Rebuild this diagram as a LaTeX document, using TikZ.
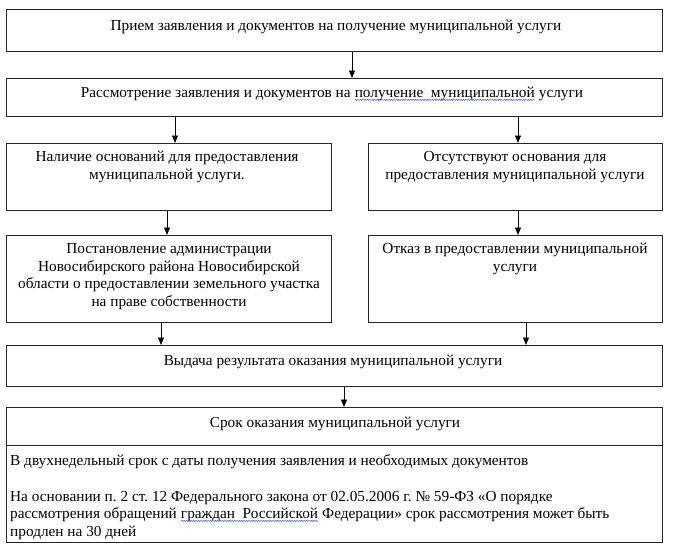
\documentclass[tikz,border=0pt]{standalone}
\usepackage{fontspec}
\setmainfont{Liberation Serif}
\frenchspacing
\usetikzlibrary{arrows.meta,decorations.pathmorphing}
\definecolor{wavecol}{RGB}{70,90,200}
\newcommand{\spellwave}[1]{\tikz[baseline=(sw.base)]{\node[inner sep=0pt,outer sep=0pt,draw=none](sw){#1};\draw[wavecol,line width=0.5pt,decorate,decoration={snake,amplitude=0.6pt,segment length=2.4pt}]([yshift=-2.2pt]sw.base west)--([yshift=-2.2pt]sw.base east);}}
\begin{document}
\begin{tikzpicture}[x=1pt,y=-1pt,
  box/.style={draw=black!85,line width=0.9pt,rectangle,inner sep=0pt},
  txt/.style={inner sep=0pt,font=\fontsize{15.3}{17.5}\selectfont,align=center,anchor=north},
  ltxt/.style={inner sep=0pt,font=\fontsize{15.3}{17.5}\selectfont,align=left,anchor=north west},
  arr/.style={draw=black,line width=0.8pt,-{Triangle[length=7.5pt,width=6pt]}}]
\useasboundingbox (0,0) rectangle (676,554);
% boxes
\node[box,minimum width=656pt,minimum height=42pt,anchor=north west] (b1) at (6,9) {};
\node[box,minimum width=656pt,minimum height=38pt,anchor=north west] (b2) at (6,78) {};
\node[box,minimum width=325pt,minimum height=67pt,anchor=north west] (b3l) at (6,143) {};
\node[box,minimum width=294pt,minimum height=67pt,anchor=north west] (b3r) at (368,143) {};
\node[box,minimum width=325pt,minimum height=87pt,anchor=north west] (b4l) at (6,235) {};
\node[box,minimum width=294pt,minimum height=87pt,anchor=north west] (b4r) at (368,235) {};
\node[box,minimum width=656pt,minimum height=41pt,anchor=north west] (b5) at (6,345) {};
\node[box,minimum width=656pt,minimum height=38pt,anchor=north west] (b6h) at (6,407) {};
\node[box,minimum width=656pt,minimum height=97pt,anchor=north west] (b6b) at (6,445) {};
% texts
\node[txt] (t1) at (336,18.25) {\strut Прием заявления и документов на получение муниципальной услуги};
\node[txt] (t2) at (332,85.25) {\strut Рассмотрение заявления и документов на \spellwave{получение\ \ муниципальной} услуги};
\node[txt] (t3l) at (167,149.25) {\strut Наличие оснований для предоставления\\муниципальной услуги.};
\node[txt] (t3r) at (515,149.25) {\strut Отсутствуют основания для\\предоставления муниципальной услуги};
\node[txt] (t4l) at (169,241.25) {\strut Постановление администрации\\Новосибирского района Новосибирской\\области о предоставлении земельного участка\\на праве собственности};
\node[txt] (t4r) at (515,241.25) {\strut Отказ в предоставлении муниципальной\\услуги};
\node[txt] (t5) at (333,353.25) {\strut Выдача результата оказания муниципальной услуги};
\node[txt] (t6h) at (335,415.25) {\strut Срок оказания муниципальной услуги};
\node[ltxt] (t6b) at (10,453.25) {\strut В двухнедельный срок с даты получения заявления и необходимых документов\\[18pt]
На основании п. 2 ст. 12 Федерального закона от 02.05.2006 г. № 59-ФЗ «О порядке\\
рассмотрения обращений \spellwave{граждан\ \ Российской} Федерации» срок рассмотрения может быть\\
продлен на 30 дней};
% arrows
\draw[arr] (b1.south -| 352,0) -- (b2.north -| 352,0);
\draw[arr] (b2.south -| 175,0) -- (b3l.north -| 175,0);
\draw[arr] (b2.south -| 518,0) -- (b3r.north -| 518,0);
\draw[arr] (b3l.south -| 167,0) -- (b4l.north -| 167,0);
\draw[arr] (b3r.south -| 518,0) -- (b4r.north -| 518,0);
\draw[arr] (b4l.south -| 161,0) -- (b5.north -| 161,0);
\draw[arr] (b4r.south -| 526,0) -- (b5.north -| 526,0);
\draw[arr] (b5.south -| 344,0) -- (b6h.north -| 344,0);
\end{tikzpicture}
\end{document}
